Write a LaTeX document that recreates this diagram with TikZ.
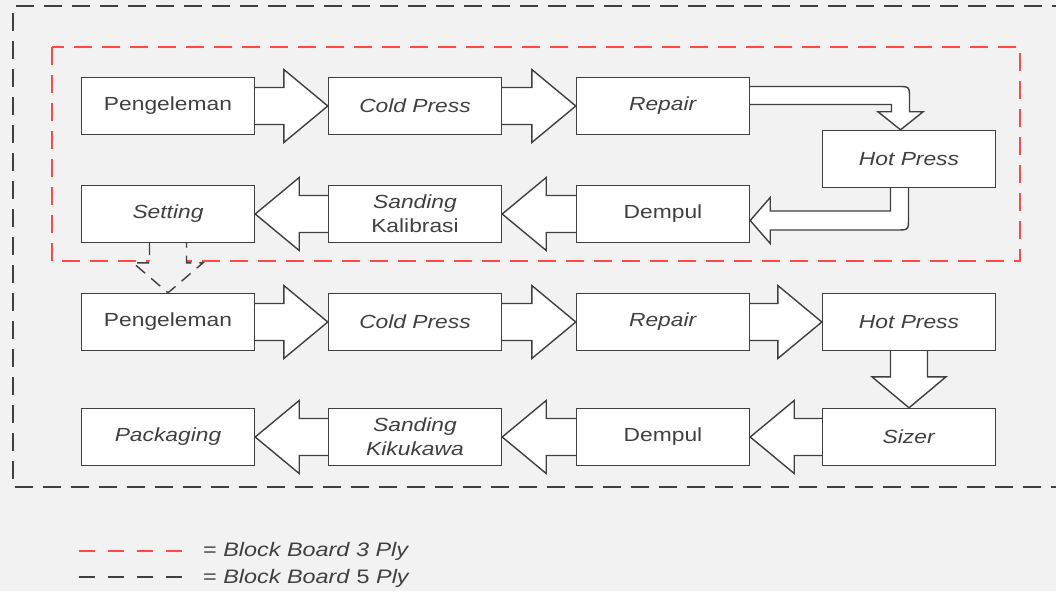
\documentclass[tikz,border=0pt]{standalone}
\usepackage{fontspec}
\setmainfont{Liberation Sans}[FakeStretch=1.2]
\usetikzlibrary{calc}
\definecolor{ink}{HTML}{404040}
\definecolor{redline}{HTML}{FF4848}
\definecolor{paper}{HTML}{F2F2F2}
\pgfdeclarelayer{ground}
\pgfdeclarelayer{arrows}
\pgfsetlayers{ground,arrows,main}

% straight block arrow from the east side of #1 to the west side of #2
\newcommand\rightblock[2]{%
  \draw[blockarrow] ($(#1.east)+(0,-18.5)$) -- ($(#2.west)+(-44,-18.5)$)
    -- ($(#2.west)+(-44,-36.5)$) -- (#2.west) -- ($(#2.west)+(-44,36.5)$)
    -- ($(#2.west)+(-44,18.5)$) -- ($(#1.east)+(0,18.5)$);}
% straight block arrow from the west side of #1 to the east side of #2
\newcommand\leftblock[2]{%
  \draw[blockarrow] ($(#1.west)+(0,-18.5)$) -- ($(#2.east)+(44,-18.5)$)
    -- ($(#2.east)+(44,-36.5)$) -- (#2.east) -- ($(#2.east)+(44,36.5)$)
    -- ($(#2.east)+(44,18.5)$) -- ($(#1.west)+(0,18.5)$);}

\begin{document}
\begin{tikzpicture}[x=1pt,y=-1pt,
  box/.style={draw=ink, line width=1.4pt, fill=white,
    minimum width=173pt, minimum height=57pt, inner sep=0pt,
    text=ink, font=\fontsize{19}{24}\selectfont, align=center},
  blockarrow/.style={draw=ink, line width=1.4pt, fill=white, line join=miter},
  redframe/.style={draw=redline, line width=2pt, dash pattern=on 18pt off 10pt},
  blackframe/.style={draw=ink, line width=2pt, dash pattern=on 18pt off 10pt},
  legendline/.style={line width=2pt, dash pattern=on 16pt off 13pt},
  legendtext/.style={text=ink, font=\fontsize{19.5}{24}\selectfont, anchor=west, inner sep=0pt}]

\useasboundingbox (0,0) rectangle (1056,591);
\clip (0,0) rectangle (1056,591);

\begin{pgfonlayer}{ground}
\fill[paper] (0,0) rectangle (1056,591);
% frames
\draw[blackframe] (1070,6) -- (13,6) -- (13,487) -- (1070,487);
\draw[redframe] (52,47) rectangle (1020,261);
\end{pgfonlayer}

% first pass (3 ply)
\node[box] (pen1) at (168,106) {Pengeleman};
\node[box] (cold1) at (415,106) {\textit{Cold Press}};
\node[box] (rep1) at (663,106) {\textit{Repair}};
\node[box] (hot1) at (909,159) {\textit{Hot Press}};
\node[box] (dem1) at (663,214) {Dempul};
\node[box] (kal1) at (415,214) {\textit{Sanding}\\Kalibrasi};
\node[box] (set1) at (168,214) {\textit{Setting}};

% second pass (5 ply)
\node[box] (pen2) at (168,322) {Pengeleman};
\node[box] (cold2) at (415,322) {\textit{Cold Press}};
\node[box] (rep2) at (663,322) {\textit{Repair}};
\node[box] (hot2) at (909,322) {\textit{Hot Press}};
\node[box] (siz2) at (909,437) {\textit{Sizer}};
\node[box] (dem2) at (663,437) {Dempul};
\node[box] (kik2) at (415,437) {\textit{Sanding}\\\textit{Kikukawa}};
\node[box] (pack2) at (168,437) {\textit{Packaging}};

\begin{pgfonlayer}{arrows}
% arrows of the first pass
\rightblock{pen1}{cold1}
\rightblock{cold1}{rep1}
\coordinate (tipA) at ($(hot1.north)+(-8.5,0)$);
\coordinate (cornA) at ($(tipA |- rep1.east)+(9,-19.5)$);
\draw[blockarrow] ($(rep1.east)+(0,-19.5)$) -- ($(cornA)+(-12,0)$)
  .. controls (cornA) .. ($(cornA)+(0,12)$) -- ($(tipA)+(9,-18)$)
  -- ($(tipA)+(22.5,-18)$) -- (tipA) -- ($(tipA)+(-22.5,-18)$)
  -- ($(tipA)+(-9,-18)$) -- ($(tipA |- rep1.east)+(-9,-1.5)$)
  -- ($(rep1.east)+(0,-1.5)$);
\coordinate (tipB) at ($(dem1.east)+(0,6.5)$);
\coordinate (srcB) at ($(hot1.south)+(-9.5,0)$);
\coordinate (cornB) at ($(srcB |- tipB)+(9,9.5)$);
\draw[blockarrow] ($(srcB)+(-9,0)$) -- ($(srcB |- tipB)+(-9,-9.5)$)
  -- ($(tipB)+(20,-9.5)$) -- ($(tipB)+(20,-23)$) -- (tipB)
  -- ($(tipB)+(20,23)$) -- ($(tipB)+(20,9.5)$) -- ($(cornB)+(-12,0)$)
  .. controls (cornB) .. ($(cornB)+(0,-12)$) -- ($(srcB)+(9,0)$);
\leftblock{dem1}{kal1}
\leftblock{kal1}{set1}

% link between the passes
\draw[blockarrow, fill=paper, dash pattern=on 12pt off 8pt]
  ($(set1.south)+(-18.5,0)$) -- ($(pen2.north)+(-18.5,-30)$)
  -- ($(pen2.north)+(-35,-30)$) -- (pen2.north) -- ($(pen2.north)+(35,-30)$)
  -- ($(pen2.north)+(18.5,-30)$) -- ($(set1.south)+(18.5,0)$);

% arrows of the second pass
\rightblock{pen2}{cold2}
\rightblock{cold2}{rep2}
\rightblock{rep2}{hot2}
\draw[blockarrow] ($(hot2.south)+(-18.5,0)$) -- ($(siz2.north)+(-18.5,-31)$)
  -- ($(siz2.north)+(-37,-31)$) -- (siz2.north) -- ($(siz2.north)+(37,-31)$)
  -- ($(siz2.north)+(18.5,-31)$) -- ($(hot2.south)+(18.5,0)$);
\leftblock{siz2}{dem2}
\leftblock{dem2}{kik2}
\leftblock{kik2}{pack2}
\end{pgfonlayer}

% legend
\coordinate (lr1) at (79,551);
\coordinate (lr2) at (185,551);
\coordinate (lb1) at (79,577);
\coordinate (lb2) at (185,577);
\draw[legendline, draw=redline] (lr1) -- (lr2);
\draw[legendline, draw=ink] (lb1) -- (lb2);
\node[legendtext] (leg1) at (203,551) {= \textit{Block Board 3 Ply}};
\node[legendtext] (leg2) at (203,578) {= \textit{Block Board} 5 \textit{Ply}};
\end{tikzpicture}
\end{document}
